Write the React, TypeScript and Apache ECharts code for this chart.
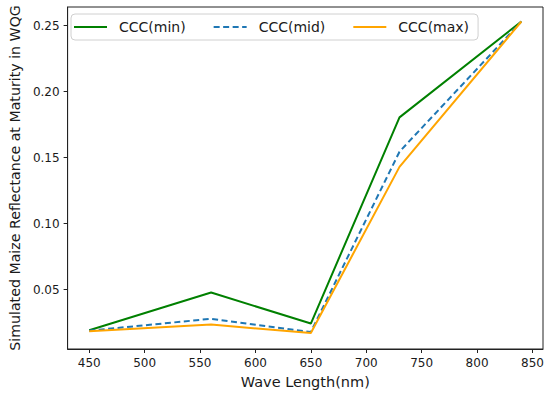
import React, { useEffect, useRef } from "react";
import * as echarts from "echarts";

const wavelengths = [450, 560, 650, 730, 840];
const cccMin = [0.0191, 0.0477, 0.0242, 0.1805, 0.2532];
const cccMid = [0.0188, 0.0278, 0.0178, 0.1545, 0.2532];
const cccMax = [0.0183, 0.0234, 0.0170, 0.1430, 0.2532];
const xTicks = [450, 500, 550, 600, 650, 700, 750, 800, 850];
const yTicks = [0.05, 0.1, 0.15, 0.2, 0.25];

const FONT = "DejaVu Sans";

export default function App() {
  const ref = useRef<HTMLDivElement>(null);
  useEffect(() => {
    if (!ref.current) return;
    const chart = echarts.init(ref.current, undefined, { renderer: "svg" });
    const pair = (ys: number[]) => wavelengths.map((x, i) => [x, ys[i]]);
    chart.setOption({
      animation: false,
      backgroundColor: "#ffffff",
      textStyle: { fontFamily: FONT },
      grid: {
        left: 63,
        top: 7,
        right: 7,
        bottom: 47,
        show: true,
        borderColor: "#222",
        borderWidth: 1,
        backgroundColor: "transparent",
      },
      legend: {
        left: 71,
        top: 14,
        orient: "horizontal",
        itemWidth: 33,
        itemHeight: 14,
        itemGap: 27,
        padding: [6, 9, 6, 2],
        borderColor: "#d0d0d0",
        borderWidth: 1,
        borderRadius: 4,
        backgroundColor: "rgba(255,255,255,0.85)",
        itemStyle: { opacity: 0 },
        lineStyle: { width: 2 },
        textStyle: { fontFamily: FONT, fontSize: 14, color: "#1a1a1a", padding: [0, 0, 0, 7] },
        data: ["CCC(min)", "CCC(mid)", "CCC(max)"],
      },
      xAxis: {
        type: "value",
        min: 430.5,
        max: 859.5,
        name: "Wave Length(nm)",
        nameLocation: "middle",
        nameGap: 25,
        nameTextStyle: { fontFamily: FONT, fontSize: 14.5, color: "#1a1a1a" },
        axisLine: { show: true, lineStyle: { color: "#222", width: 1 } },
        axisTick: { show: true, length: 4, lineStyle: { color: "#222" }, customValues: xTicks },
        axisLabel: {
          fontFamily: FONT,
          fontSize: 12,
          color: "#1a1a1a",
          margin: 8,
          customValues: xTicks,
          formatter: (v: number) => String(Math.round(v)),
        },
        splitLine: { show: false },
      },
      yAxis: {
        type: "value",
        min: 0.0049,
        max: 0.2642,
        name: "Simulated Maize Reflectance at Maturity in WQG",
        nameLocation: "middle",
        nameGap: 42,
        nameTextStyle: { fontFamily: FONT, fontSize: 14.2, color: "#1a1a1a" },
        axisLine: { show: true, lineStyle: { color: "#222", width: 1 } },
        axisTick: { show: true, length: 4, lineStyle: { color: "#222" }, customValues: yTicks },
        axisLabel: {
          fontFamily: FONT,
          fontSize: 12,
          color: "#1a1a1a",
          margin: 8,
          customValues: yTicks,
          formatter: (v: number) => v.toFixed(2),
        },
        splitLine: { show: false },
      },
      series: [
        {
          name: "CCC(min)",
          type: "line",
          data: pair(cccMin),
          symbol: "none",
          color: "#008000",
          lineStyle: { color: "#008000", width: 2 },
        },
        {
          name: "CCC(mid)",
          type: "line",
          data: pair(cccMid),
          symbol: "none",
          color: "#1f77b4",
          lineStyle: { color: "#1f77b4", width: 2, type: [6, 3.5] },
        },
        {
          name: "CCC(max)",
          type: "line",
          data: pair(cccMax),
          symbol: "none",
          color: "#ffa500",
          lineStyle: { color: "#ffa500", width: 2 },
        },
      ],
    });
    return () => chart.dispose();
  }, []);
  return <div ref={ref} style={{ width: 550, height: 396, position: "absolute", left: 0, top: 0 }} />;
}
